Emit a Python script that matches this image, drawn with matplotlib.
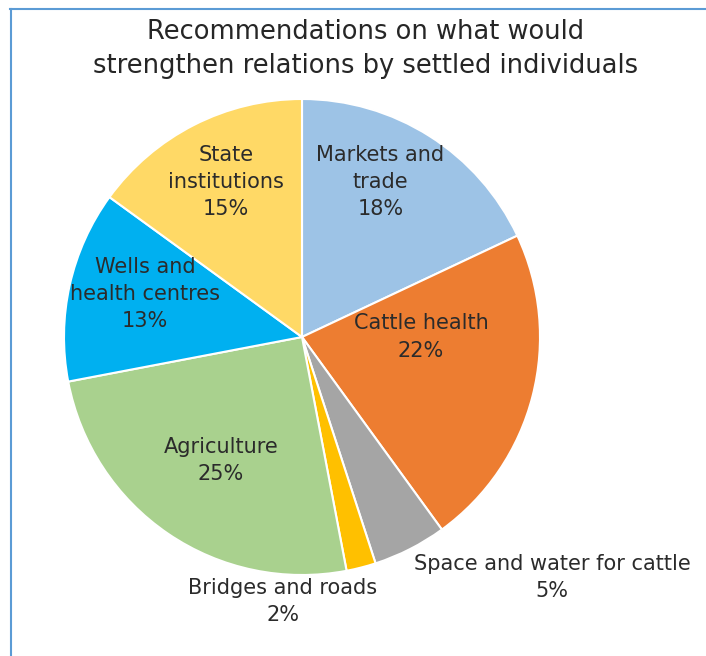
import matplotlib
matplotlib.use("Agg")
import matplotlib.pyplot as plt
from matplotlib.lines import Line2D

plt.rcParams['font.family'] = ['DejaVu Sans']

categories = ["Markets and\ntrade", "Cattle health", "Space and water for cattle",
              "Bridges and roads", "Agriculture", "Wells and\nhealth centres",
              "State\ninstitutions"]
shares = [18, 22, 5, 2, 25, 13, 15]
colors = ["#9DC3E6", "#ED7D31", "#A5A5A5", "#FFC000", "#A9D18E", "#00B0F0", "#FFD966"]
# where each data label sits, in units of the pie radius
label_xy = [(0.33, 0.65), (0.50, 0.0), (1.05, -1.01), (-0.08, -1.11),
            (-0.34, -0.52), (-0.66, 0.18), (-0.32, 0.65)]

fig = plt.figure(figsize=(7.06, 6.56), dpi=100)
ax = fig.add_axes([64 / 706, 81 / 656, 476 / 706, 476 / 656])

ax.pie(shares, colors=colors, startangle=90, counterclock=False,
       wedgeprops=dict(edgecolor="white", linewidth=1.5))
ax.set_xlim(-1, 1)
ax.set_ylim(-1, 1)

for name, val, (x, y) in zip(categories, shares, label_xy):
    ax.text(x, y, f"{name}\n{val}%", ha="center", va="center",
            fontsize=15, color="#2b2b2b", linespacing=1.44)

fig.text(366 / 706, 1 - 49 / 656, "Recommendations on what would\nstrengthen relations by settled individuals",
         ha="center", va="center", fontsize=18.5, color="#262626", linespacing=1.4)

# chart frame (only the top and left edges fall inside the image)
frame = "#5B9BD5"
fig.add_artist(Line2D([10 / 706, 1], [1 - 9 / 656, 1 - 9 / 656], color=frame, lw=1.5,
                      transform=fig.transFigure))
fig.add_artist(Line2D([11 / 706, 11 / 706], [1 - 9 / 656, 0], color=frame, lw=1.5,
                      transform=fig.transFigure))

fig.savefig("out.png", dpi=100, facecolor="white")
